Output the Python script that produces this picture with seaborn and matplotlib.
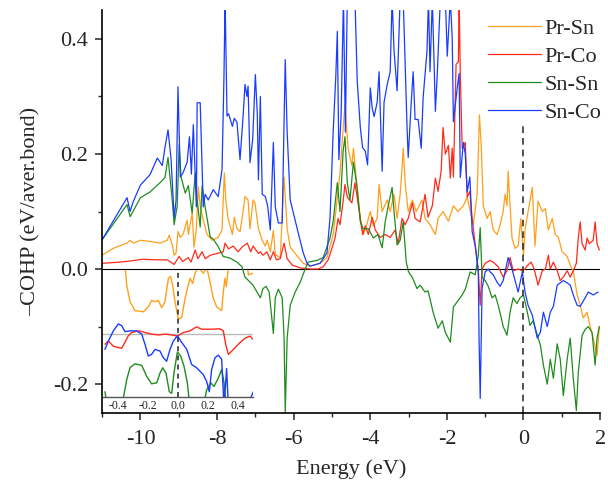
import numpy as np
import matplotlib
matplotlib.use("Agg")
import matplotlib.pyplot as plt
import seaborn as sns

# main COHP curves (energy in eV, -COHP in eV/bond)
# 0.47 marks places where the curve runs off the top of the frame
prsn_e = [-11.0, -10.71, -10.35, -10.27, -10.19, -10.0, -9.75, -9.49, -9.30, -9.25, -9.17, -9.12, -9.07,
          -9.02, -8.96, -8.89, -8.78, -8.75, -8.65, -8.60, -8.54, -8.49, -8.44, -8.36, -8.26, -8.13, -7.97,
          -7.87, -7.81, -7.77, -7.71, -7.60, -7.55, -7.48, -7.40, -7.32, -7.27, -7.19, -7.14, -7.06, -7.01,
          -6.92, -6.82, -6.74, -6.69, -6.61, -6.53, -6.48, -6.35, -6.25, -6.17, -6.09, -5.90, -5.75, -5.57,
          -5.31, -5.13, -4.97, -4.90, -4.79, -4.73, -4.66, -4.58, -4.48, -4.44, -4.34, -4.26, -4.18, -4.10,
          -4.00, -3.92, -3.82, -3.77, -3.69, -3.56, -3.48, -3.38, -3.30, -3.22, -3.17, -3.14, -3.09, -3.01,
          -2.90, -2.80, -2.72, -2.65, -2.57, -2.44, -2.30, -2.23, -2.10, -1.96, -1.83, -1.71, -1.57, -1.47,
          -1.39, -1.31, -1.21, -1.15, -1.10, -1.05, -0.95, -0.87, -0.79, -0.69, -0.61, -0.53, -0.48, -0.43,
          -0.40, -0.35, -0.30, -0.22, -0.14, -0.07, 0.00, 0.04, 0.12, 0.23, 0.30, 0.38, 0.49, 0.57, 0.65,
          0.75, 0.83, 0.91, 1.01, 1.14, 1.22, 1.30, 1.40, 1.48, 1.56, 1.66, 1.74, 1.82, 1.92, 1.98]
prsn_v = [0.024, 0.036, 0.045, 0.050, 0.045, 0.050, 0.048, 0.045, 0.050, 0.059, 0.042, 0.024, 0.028,
          0.065, 0.055, 0.060, 0.085, 0.060, 0.097, 0.038, 0.070, 0.143, 0.110, 0.085, 0.060, 0.050, 0.055,
          0.068, 0.167, 0.120, 0.087, 0.060, 0.090, 0.070, 0.065, 0.100, 0.126, 0.120, 0.070, 0.120, 0.115,
          0.070, 0.050, 0.040, 0.050, 0.030, 0.067, 0.025, 0.020, 0.160, 0.070, 0.038, 0.022, 0.010, 0.005,
          0.010, 0.020, 0.060, 0.100, 0.167, 0.225, 0.286, 0.210, 0.180, 0.210, 0.140, 0.088, 0.060, 0.075,
          0.100, 0.075, 0.088, 0.147, 0.100, 0.120, 0.100, 0.130, 0.088, 0.130, 0.176, 0.210, 0.150, 0.100,
          0.120, 0.100, 0.110, 0.120, 0.088, 0.077, 0.060, 0.088, 0.100, 0.083, 0.110, 0.100, 0.110, 0.125,
          0.100, 0.077, 0.130, 0.268, 0.210, 0.110, 0.088, 0.100, 0.068, 0.060, 0.077, 0.100, 0.130, 0.110,
          0.170, 0.110, 0.054, 0.036, 0.040, 0.088, 0.024, 0.068, 0.100, 0.142, 0.040, 0.118, 0.100, 0.105,
          0.068, 0.088, 0.060, 0.055, 0.030, 0.022, 0.007, -0.004, -0.045, -0.063, -0.085, -0.075, -0.100,
          -0.120, -0.150, -0.100]

prco_e = [-11.0, -10.53, -10.27, -9.93, -9.56, -9.30, -9.12, -8.99, -8.90, -8.75, -8.68, -8.57, -8.50,
          -8.39, -8.31, -8.18, -8.00, -7.84, -7.79, -7.70, -7.58, -7.45, -7.35, -7.21, -7.12, -7.06, -6.92,
          -6.87, -6.80, -6.70, -6.61, -6.53, -6.45, -6.35, -6.25, -6.17, -6.04, -5.83, -5.57, -5.36, -5.23,
          -5.10, -5.00, -4.92, -4.84, -4.79, -4.71, -4.66, -4.60, -4.48, -4.40, -4.32, -4.20, -4.13, -4.05,
          -3.95, -3.87, -3.74, -3.61, -3.48, -3.35, -3.27, -3.17, -3.09, -3.01, -2.90, -2.83, -2.70, -2.62,
          -2.57, -2.49, -2.38, -2.30, -2.23, -2.15, -2.10, -2.04, -1.96, -1.91, -1.86, -1.83, -1.76, -1.70,
          -1.68, -1.65, -1.60, -1.52, -1.47, -1.40, -1.34, -1.26, -1.18, -1.13, -1.08, -1.00, -0.87, -0.79,
          -0.66, -0.61, -0.53, -0.43, -0.35, -0.27, -0.14, -0.03, 0.04, 0.10, 0.20, 0.28, 0.38, 0.49, 0.57,
          0.65, 0.70, 0.78, 0.88, 0.96, 1.04, 1.14, 1.22, 1.30, 1.38, 1.43, 1.48, 1.53, 1.61, 1.66, 1.72,
          1.82, 1.87, 1.92, 1.98]
prco_v = [0.010, 0.012, 0.014, 0.017, 0.016, 0.016, 0.008, 0.022, 0.013, 0.020, 0.012, 0.033, 0.018,
          0.030, 0.018, 0.024, 0.027, 0.030, 0.045, 0.035, 0.040, 0.030, 0.038, 0.045, 0.030, 0.040, 0.027,
          0.030, 0.024, 0.030, 0.016, 0.030, 0.016, 0.018, 0.045, 0.018, 0.007, 0.002, 0.000, 0.000, 0.004,
          0.016, 0.036, 0.054, 0.088, 0.077, 0.117, 0.147, 0.125, 0.115, 0.150, 0.115, 0.060, 0.075, 0.060,
          0.090, 0.068, 0.055, 0.060, 0.055, 0.068, 0.044, 0.088, 0.077, 0.088, 0.115, 0.088, 0.082, 0.110,
          0.130, 0.090, 0.110, 0.158, 0.135, 0.170, 0.246, 0.200, 0.215, 0.158, 0.210, 0.160, 0.356, 0.360,
          0.470, 0.340, 0.210, 0.220, 0.125, 0.135, 0.088, 0.042, 0.000, -0.063, 0.000, 0.010, 0.015, 0.012,
          0.004, -0.003, -0.014, -0.003, 0.020, -0.003, 0.000, -0.003, 0.000, 0.006, 0.012, 0.000, -0.028,
          -0.003, 0.000, 0.024, 0.000, 0.012, -0.003, -0.020, -0.014, -0.003, -0.014, -0.003, 0.010, 0.054,
          0.082, 0.044, 0.033, 0.054, 0.044, 0.050, 0.082, 0.044, 0.033]

snsn_e = [-11.0, -10.35, -10.27, -10.0, -9.75, -9.49, -9.36, -9.28, -9.17, -9.12, -9.04, -8.99, -8.94,
          -8.83, -8.75, -8.65, -8.57, -8.52, -8.44, -8.39, -8.34, -8.18, -8.10, -7.97, -7.84, -7.66, -7.48,
          -7.35, -7.27, -7.06, -6.87, -6.80, -6.72, -6.64, -6.53, -6.48, -6.40, -6.30, -6.25, -6.22, -6.17,
          -6.09, -5.96, -5.83, -5.70, -5.62, -5.39, -5.23, -5.05, -4.97, -4.86, -4.79, -4.71, -4.66, -4.60,
          -4.53, -4.44, -4.34, -4.26, -4.18, -4.05, -3.92, -3.80, -3.69, -3.61, -3.53, -3.43, -3.38, -3.30,
          -3.22, -3.14, -3.06, -3.00, -2.90, -2.78, -2.70, -2.57, -2.49, -2.36, -2.23, -2.12, -2.04, -1.91,
          -1.83, -1.71, -1.60, -1.52, -1.39, -1.26, -1.18, -1.13, -1.08, -1.00, -0.92, -0.82, -0.74, -0.66,
          -0.58, -0.53, -0.43, -0.35, -0.27, -0.17, -0.09, 0.00, 0.10, 0.17, 0.25, 0.36, 0.44, 0.52, 0.62,
          0.70, 0.78, 0.88, 0.96, 1.04, 1.14, 1.22, 1.30, 1.38, 1.43, 1.53, 1.61, 1.69, 1.79, 1.87, 1.92, 1.98]
snsn_v = [0.051, 0.112, 0.091, 0.124, 0.134, 0.150, 0.159, 0.194, 0.120, 0.077, 0.110, 0.216, 0.160,
          0.132, 0.145, 0.097, 0.167, 0.120, 0.073, 0.145, 0.120, 0.056, 0.052, 0.039, 0.022, 0.019, 0.012,
          0.004, -0.014, -0.028, -0.050, -0.034, -0.030, -0.040, -0.112, -0.050, -0.035, -0.050, -0.120,
          -0.250, -0.120, -0.063, -0.040, -0.023, 0.000, 0.012, 0.015, 0.020, 0.054, 0.082, 0.150, 0.100,
          0.204, 0.230, 0.150, 0.120, 0.186, 0.140, 0.082, 0.070, 0.070, 0.054, 0.060, 0.037, 0.082, 0.110,
          0.142, 0.100, 0.042, 0.050, 0.082, 0.012, -0.005, -0.015, -0.034, -0.028, -0.040, -0.038, -0.075,
          -0.103, -0.090, -0.110, -0.127, -0.066, -0.055, -0.045, -0.035, -0.005, -0.010, 0.024, 0.072,
          -0.015, -0.020, -0.030, -0.050, -0.045, -0.063, -0.085, -0.100, -0.115, -0.075, -0.050, -0.060,
          -0.050, -0.045, -0.075, -0.098, -0.090, -0.115, -0.132, -0.167, -0.200, -0.157, -0.190, -0.130,
          -0.157, -0.220, -0.157, -0.120, -0.190, -0.246, -0.180, -0.115, -0.105, -0.100, -0.110, -0.167,
          -0.120, -0.100]

snco_e = [-11.0, -10.35, -10.27, -10.19, -10.0, -9.75, -9.56, -9.43, -9.36, -9.28, -9.20, -9.12, -9.07,
          -9.02, -8.96, -8.89, -8.78, -8.72, -8.67, -8.62, -8.54, -8.52, -8.44, -8.36, -8.31, -8.23, -8.10,
          -7.97, -7.87, -7.82, -7.79, -7.74, -7.70, -7.60, -7.55, -7.48, -7.40, -7.32, -7.27, -7.22, -7.19,
          -7.14, -7.07, -7.00, -6.95, -6.92, -6.87, -6.82, -6.74, -6.68, -6.61, -6.53, -6.48, -6.40, -6.30,
          -6.22, -6.17, -6.09, -5.90, -5.75, -5.65, -5.57, -5.31, -5.13, -5.05, -4.97, -4.90, -4.86, -4.82,
          -4.76, -4.70, -4.65, -4.60, -4.48, -4.40, -4.34, -4.26, -4.20, -4.13, -4.07, -4.00, -3.95, -3.90,
          -3.82, -3.77, -3.69, -3.64, -3.56, -3.48, -3.43, -3.38, -3.30, -3.22, -3.14, -3.04, -3.01, -2.93,
          -2.88, -2.83, -2.75, -2.67, -2.62, -2.52, -2.48, -2.44, -2.38, -2.30, -2.25, -2.17, -2.12, -2.04,
          -1.99, -1.91, -1.86, -1.83, -1.73, -1.68, -1.65, -1.57, -1.52, -1.47, -1.40, -1.34, -1.26, -1.18,
          -1.16, -1.13, -1.08, -1.00, -0.92, -0.87, -0.79, -0.69, -0.61, -0.53, -0.40, -0.30, -0.22, -0.14,
          -0.03, 0.04, 0.12, 0.23, 0.36, 0.44, 0.52, 0.62, 0.70, 0.78, 0.88, 0.96, 1.04, 1.14, 1.22, 1.30,
          1.40, 1.48, 1.61, 1.69, 1.82, 1.95]
snco_v = [0.051, 0.124, 0.100, 0.117, 0.146, 0.164, 0.193, 0.180, 0.211, 0.242, 0.190, 0.089, 0.120,
          0.317, 0.160, 0.167, 0.186, 0.230, 0.165, 0.251, 0.108, 0.289, 0.289, 0.108, 0.130, 0.120, 0.138,
          0.126, 0.173, 0.333, 0.470, 0.266, 0.270, 0.248, 0.262, 0.255, 0.190, 0.266, 0.321, 0.300, 0.318,
          0.185, 0.225, 0.338, 0.270, 0.155, 0.300, 0.130, 0.126, 0.110, 0.068, 0.220, 0.108, 0.080, 0.080,
          0.364, 0.238, 0.120, 0.068, 0.028, 0.010, 0.005, 0.010, 0.028, 0.090, 0.236, 0.335, 0.413, 0.190,
          0.270, 0.470, 0.238, 0.470, 0.470, 0.470, 0.326, 0.246, 0.211, 0.205, 0.181, 0.315, 0.280, 0.265,
          0.290, 0.343, 0.170, 0.290, 0.320, 0.343, 0.470, 0.380, 0.310, 0.470, 0.470, 0.246, 0.194, 0.290,
          0.343, 0.260, 0.260, 0.210, 0.298, 0.378, 0.470, 0.343, 0.470, 0.274, 0.340, 0.470, 0.470, 0.470,
          0.370, 0.470, 0.400, 0.256, 0.315, 0.340, 0.159, 0.220, 0.200, 0.134, 0.160, 0.065, 0.040, -0.005,
          -0.120, -0.225, -0.033, -0.005, 0.000, -0.005, -0.010, -0.023, -0.030, -0.020, 0.020, 0.000,
          -0.020, -0.040, -0.005, -0.040, -0.063, -0.080, -0.120, -0.110, -0.075, -0.100, -0.075, -0.065,
          -0.028, -0.024, -0.020, -0.024, -0.028, -0.045, -0.063, -0.065, -0.050, -0.040, -0.045, -0.040]

# inset: the same four bonds magnified around the Fermi level (stacked, arbitrary offset units)
in_prsn_e = [-0.50, -0.36, -0.342, -0.32, -0.287, -0.231, -0.198, -0.176, -0.153, -0.131, -0.109, -0.087,
             -0.064, -0.049, -0.036, -0.02, 0.002, 0.024, 0.047, 0.062, 0.08, 0.098, 0.113, 0.136, 0.169,
             0.191, 0.213, 0.236, 0.258, 0.291, 0.302, 0.313, 0.322, 0.336, 0.36, 0.45, 0.47, 0.50]
in_prsn_v = [0.20, 0.20, 0.121, 0.080, 0.058, 0.055, 0.067, 0.083, 0.080, 0.083, 0.065, 0.080,
             0.1375, 0.142, 0.120, 0.080, 0.0375, 0.040, 0.0875, 0.112, 0.1375, 0.125, 0.150, 0.165, 0.150,
             0.165, 0.130, 0.0875, 0.067, 0.058, 0.104, 0.1375, 0.117, 0.165, 0.20, 0.20, 0.146, 0.150]

in_prco_e = [-0.487, -0.464, -0.431, -0.376, -0.353, -0.331, -0.309, -0.264, -0.22, -0.176, -0.131, -0.087,
             -0.042, -0.004, 0.036, 0.08, 0.124, 0.158, 0.213, 0.28, 0.302, 0.32, 0.336, 0.358, 0.402,
             0.447, 0.48, 0.498]
in_prco_v = [-0.025, -0.017, -0.030, -0.035, -0.020, -0.004, 0.004, 0.008, 0.004, 0.000, -0.002, 0.000,
             -0.002, -0.005, 0.004, 0.008, 0.018, 0.012, 0.012, 0.013, 0.008, -0.029, -0.050, -0.042,
             -0.025, -0.010, -0.005, -0.012]

in_snsn_e = [-0.487, -0.47, -0.376, -0.342, -0.32, -0.287, -0.242, -0.209, -0.176, -0.142, -0.12, -0.102,
             -0.08, -0.058, -0.042, -0.027, -0.004, 0.018, 0.04, 0.062, 0.08, 0.169, 0.191, 0.218, 0.24,
             0.269, 0.291, 0.307, 0.32, 0.50]
in_snsn_v = [-0.142, -0.18, -0.18, -0.1125, -0.083, -0.073, -0.077, -0.104, -0.1225, -0.120, -0.096, -0.083,
             -0.096, -0.142, -0.146, -0.096, -0.044, -0.054, -0.079, -0.120, -0.18, -0.18, -0.1375, -0.120,
             -0.129, -0.108, -0.0875, -0.120, -0.18, -0.18]

in_snco_e = [-0.487, -0.464, -0.431, -0.398, -0.376, -0.353, -0.32, -0.276, -0.242, -0.22, -0.198, -0.176,
             -0.153, -0.12, -0.098, -0.076, -0.053, -0.031, -0.004, 0.024, 0.058, 0.091, 0.124, 0.169, 0.191,
             0.209, 0.224, 0.247, 0.269, 0.291, 0.307, 0.324, 0.336, 0.46, 0.502]
in_snco_v = [-0.0375, -0.017, 0.008, 0.025, 0.021, 0.006, 0.008, 0.008, 0.000, -0.025, -0.054, -0.050,
             -0.0375, -0.042, -0.058, -0.067, -0.0375, -0.017, -0.004, -0.020, -0.0375, -0.075, -0.083,
             -0.100, -0.117, -0.142, -0.0875, -0.058, -0.052, -0.062, -0.18, -0.085, -0.18, -0.18, -0.142]

labels = ["Pr-Sn", "Pr-Co", "Sn-Sn", "Sn-Co"]
colors = ["#FF9F1A", "#FF2A1A", "#1E8C1E", "#1A3CFF"]

sns.set_style("ticks")
plt.rcParams['font.family'] = ['Liberation Serif', 'DejaVu Serif']
plt.rcParams['axes.unicode_minus'] = False

fig = plt.figure(figsize=(6.08, 4.84), dpi=100)
ax = fig.add_axes([0.168, 0.147, 0.819, 0.832])

main = [(prsn_e, prsn_v), (prco_e, prco_v), (snsn_e, snsn_v), (snco_e, snco_v)]
for (e, v), lab, c in zip(main, labels, colors):
    sns.lineplot(x=e, y=v, ax=ax, color=c, lw=0.9, label=lab, sort=False, estimator=None)

ax.axhline(0, color="black", lw=0.8, zorder=1)
ax.vlines(0, -0.25, 0.25, colors="#333333", linestyles=(0, (4, 3)), lw=1.2)

ax.set_xlim(-11, 2)
ax.set_ylim(-0.25, 0.45)
ax.set_xticks([-10, -8, -6, -4, -2, 0, 2])
ax.set_xticks(np.arange(-11, 2.5, 1), minor=True)
ax.set_yticks([-0.2, 0.0, 0.2, 0.4])
ax.set_yticks([-0.1, 0.1, 0.3], minor=True)
ax.set_yticklabels(["-0.2", "0.0", "0.2", "0.4"])
ax.tick_params(axis="both", which="major", direction="out", length=5, width=1.1, labelsize=16, pad=5)
ax.tick_params(axis="x", which="major", pad=7)
ax.tick_params(axis="both", which="minor", direction="out", length=3, width=1.0)
for s in ["top", "right"]:
    ax.spines[s].set_visible(False)
for s in ["left", "bottom"]:
    ax.spines[s].set_linewidth(1.2)
    ax.spines[s].set_color("black")
ax.set_xlabel("Energy (eV)", fontsize=16, labelpad=8)
ax.set_ylabel("\u2013COHP (eV/aver.bond)", fontsize=16, labelpad=9)

ax.legend(loc="upper right", bbox_to_anchor=(1.03, 1.012), frameon=False, fontsize=16,
          handlelength=2.4, handletextpad=0.15, labelspacing=0.33, borderaxespad=0.2)

# inset near the Fermi level
axi = fig.add_axes([103 / 608, 1 - 397 / 484, 150 / 608, 127 / 484])
axi.set_facecolor("none")
inset = [(in_prsn_e, in_prsn_v), (in_prco_e, in_prco_v), (in_snsn_e, in_snsn_v), (in_snco_e, in_snco_v)]
axi.axhline(0, color="#bbbbbb", lw=1.0, zorder=1)
for (e, v), c in zip(inset, colors):
    sns.lineplot(x=e, y=v, ax=axi, color=c, lw=1.0, sort=False, estimator=None, legend=False)
axi.axvline(0, color="#333333", ls=(0, (3, 2.5)), lw=1.2)
axi.set_xlim(-0.5, 0.5)
axi.set_ylim(-0.155, 0.158)
axi.set_yticks([])
axi.set_xticks([-0.4, -0.2, 0.0, 0.2, 0.4])
axi.set_xticklabels(["-0.4", "-0.2", "0.0", "0.2", "0.4"])
axi.tick_params(axis="x", length=0, labelsize=8.5, pad=2)
axi.set_xlabel("")
axi.set_ylabel("")
for s in ["top", "right", "left"]:
    axi.spines[s].set_visible(False)
axi.spines["bottom"].set_color("#555555")
axi.spines["bottom"].set_linewidth(1.0)

fig.savefig("out.png", dpi=100)
